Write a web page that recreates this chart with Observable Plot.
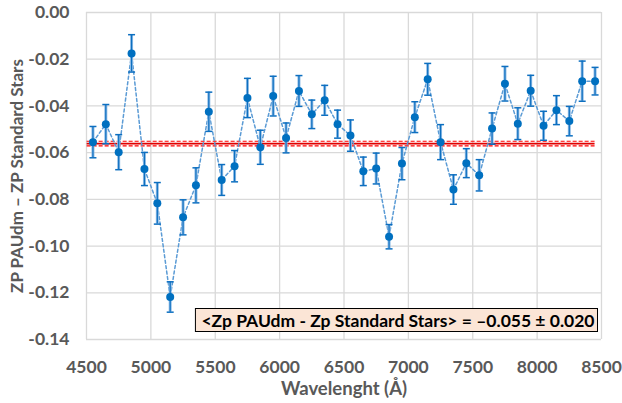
<!DOCTYPE html>
<html>
<head>
<meta charset="utf-8">
<script src="https://cdn.jsdelivr.net/npm/d3@7"></script>
<script src="https://cdn.jsdelivr.net/npm/@observablehq/plot@0.6"></script>
<style>
  html, body { margin: 0; padding: 0; background: #fff; }
  #chart { width: 622px; height: 403px; }
</style>
</head>
<body>
<div id="chart"></div>
<script>
// ---- Data ----
const wavelength = [4550, 4650, 4750, 4850, 4950, 5050, 5150, 5250, 5350, 5450,
                    5550, 5650, 5750, 5850, 5950, 6050, 6150, 6250, 6350, 6450,
                    6550, 6650, 6750, 6850, 6950, 7050, 7150, 7250, 7350, 7450,
                    7550, 7650, 7750, 7850, 7950, 8050, 8150, 8250, 8350, 8450];
const zpDiff = [-0.0555, -0.0478, -0.0598, -0.0175, -0.0670, -0.0817, -0.1218, -0.0877, -0.0740, -0.0425,
                -0.0717, -0.0658, -0.0366, -0.0577, -0.0358, -0.0537, -0.0336, -0.0436, -0.0376, -0.0478,
                -0.0527, -0.0680, -0.0668, -0.0960, -0.0647, -0.0448, -0.0286, -0.0555, -0.0758, -0.0645,
                -0.0697, -0.0497, -0.0305, -0.0476, -0.0335, -0.0485, -0.0418, -0.0465, -0.0294, -0.0294];
const zpErr = [0.0067, 0.0084, 0.0075, 0.0080, 0.0071, 0.0089, 0.0065, 0.0075, 0.0075, 0.0084,
               0.0066, 0.0067, 0.0084, 0.0073, 0.0085, 0.0064, 0.0066, 0.0061, 0.0064, 0.0060,
               0.0067, 0.0061, 0.0066, 0.0052, 0.0069, 0.0066, 0.0068, 0.0075, 0.0063, 0.0062,
               0.0067, 0.0067, 0.0074, 0.0068, 0.0066, 0.0062, 0.0062, 0.0063, 0.0086, 0.0059];
const meanZP = -0.0561;
const meanBand = [-0.0551, -0.0571];
const meanSpan = [4505, 8450];
const xTicks = [4500, 5000, 5500, 6000, 6500, 7000, 7500, 8000, 8500];
const yTicks = [0, -0.02, -0.04, -0.06, -0.08, -0.10, -0.12, -0.14];
const xLabel = "Wavelenght (Å)";
const yLabel = "ZP PAUdm – ZP Standard Stars";
const annotation = "<Zp PAUdm - Zp Standard Stars> = –0.055 ± 0.020";

const rows = wavelength.map((w, i) => ({w, v: zpDiff[i], e: zpErr[i]}));

const FONT = "Lato, 'Open Sans', sans-serif";
const GRAY = "#595959";

const cap = {
  draw(ctx, size) {
    const r = Math.sqrt(size / Math.PI);
    ctx.moveTo(-r, 0);
    ctx.lineTo(r, 0);
  }
};

const chart = Plot.plot({
  width: 622,
  height: 403,
  marginLeft: 86,
  marginRight: 21,
  marginTop: 12,
  marginBottom: 64,
  style: {fontFamily: FONT, background: "#fff"},
  x: {domain: [4500, 8500]},
  y: {domain: [-0.14, 0]},
  marks: [
    Plot.gridX(xTicks, {stroke: "#d9d9d9", strokeOpacity: 1, strokeWidth: 1.3}),
    Plot.gridY(yTicks, {stroke: "#d9d9d9", strokeOpacity: 1, strokeWidth: 1.3}),
    Plot.axisX(xTicks, {tickSize: 0, tickPadding: 21, tickFormat: d => String(d),
      fontSize: 17.5, fontWeight: "bold", fill: GRAY, label: null}),
    Plot.axisY(yTicks, {tickSize: 0, tickPadding: 17, tickFormat: d => d.toFixed(2),
      fontSize: 17.5, fontWeight: "bold", fill: GRAY, label: null}),
    Plot.text([xLabel], {frameAnchor: "bottom", dy: 55, lineAnchor: "bottom", fontSize: 18.5, fontWeight: "bold", fill: GRAY}),
    Plot.text([yLabel], {frameAnchor: "left", dx: -69, rotate: -90, textAnchor: "middle",
      fontSize: 17, fontWeight: "bold", fill: GRAY}),
    // mean and band
    Plot.ruleY(meanBand, {x1: meanSpan[0], x2: meanSpan[1], stroke: "#ff0000", strokeWidth: 1.1, strokeDasharray: "4,2"}),
    Plot.ruleY([meanZP], {x1: meanSpan[0], x2: meanSpan[1], stroke: "#e00000", strokeWidth: 1.8}),
    // connecting dashed line
    Plot.line(rows, {x: "w", y: "v", stroke: "#5b9bd5", strokeWidth: 1.5, strokeDasharray: "3,2.5"}),
    // error bars
    Plot.ruleX(rows, {x: "w", y1: d => d.v - d.e, y2: d => d.v + d.e, stroke: "#8dbbe6", strokeWidth: 3}),
    Plot.ruleX(rows, {x: "w", y1: d => d.v - d.e, y2: d => d.v + d.e, stroke: "#0d6fc0", strokeWidth: 1.2}),
    Plot.dot(rows, {x: "w", y: d => d.v + d.e, symbol: cap, r: 3.5, stroke: "#0d6fc0", strokeWidth: 1.5, fill: "none"}),
    Plot.dot(rows, {x: "w", y: d => d.v - d.e, symbol: cap, r: 3.5, stroke: "#0d6fc0", strokeWidth: 1.5, fill: "none"}),
    // points
    Plot.dot(rows, {x: "w", y: "v", r: 4, fill: "#0070c0", stroke: "none"}),
    // annotation
    Plot.text([annotation], {frameAnchor: "bottom-right", dx: -7, dy: -13, textAnchor: "end", lineAnchor: "bottom",
      fontSize: 17.5, fontWeight: "bold", fill: "#000"})
  ]
});

document.getElementById("chart").appendChild(chart);

// draw the annotation box behind the text
try {
  const t = Array.from(chart.querySelectorAll("text")).find(el => el.textContent === annotation);
  if (t) {
    const bb = t.getBBox();
    const rect = document.createElementNS("http://www.w3.org/2000/svg", "rect");
    rect.setAttribute("x", bb.x - 6);
    rect.setAttribute("y", bb.y - 1);
    rect.setAttribute("width", bb.width + 9);
    rect.setAttribute("height", bb.height + 2);
    rect.setAttribute("fill", "#fbe5d6");
    rect.setAttribute("stroke", "#000");
    rect.setAttribute("stroke-width", "1");
    const tr = t.getAttribute("transform");
    if (tr) rect.setAttribute("transform", tr);
    t.parentNode.insertBefore(rect, t);
  }
} catch (err) {
  console.error(err);
}
</script>
</body>
</html>
